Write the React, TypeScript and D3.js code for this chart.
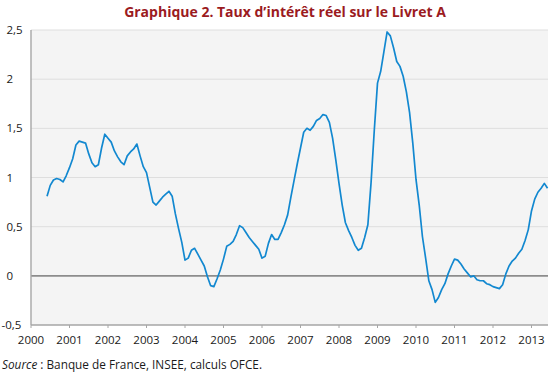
import React from "react";
import * as d3 from "d3";

const W = 550;
const H = 375;

// Monthly series, June 2000 -> June 2013
const startYear = 2000;
const startMonth = 6;
const values: number[] = [
  // 2000 Jun-Dec
  0.81, 0.92, 0.975, 0.99, 0.98, 0.955, 1.02,
  // 2001
  1.10, 1.19, 1.33, 1.37, 1.36, 1.35, 1.24, 1.15, 1.11, 1.13, 1.30, 1.44,
  // 2002
  1.40, 1.36, 1.27, 1.21, 1.16, 1.13, 1.22, 1.26, 1.29, 1.34, 1.22, 1.11,
  // 2003
  1.05, 0.90, 0.75, 0.72, 0.76, 0.80, 0.83, 0.86, 0.81, 0.63, 0.48, 0.34,
  // 2004
  0.16, 0.18, 0.26, 0.28, 0.22, 0.16, 0.10, -0.01, -0.10, -0.11, -0.03, 0.06,
  // 2005
  0.17, 0.30, 0.32, 0.35, 0.42, 0.51, 0.49, 0.44, 0.39, 0.35, 0.31, 0.27,
  // 2006
  0.18, 0.20, 0.33, 0.42, 0.37, 0.37, 0.44, 0.52, 0.62, 0.80, 0.97, 1.14,
  // 2007
  1.30, 1.46, 1.50, 1.48, 1.52, 1.58, 1.60, 1.64, 1.63, 1.56, 1.40, 1.18,
  // 2008
  0.94, 0.72, 0.54, 0.46, 0.39, 0.31, 0.26, 0.28, 0.39, 0.52, 0.95, 1.48,
  // 2009
  1.96, 2.08, 2.28, 2.48, 2.44, 2.32, 2.18, 2.13, 2.03, 1.87, 1.66, 1.35,
  // 2010
  0.98, 0.72, 0.40, 0.18, -0.05, -0.14, -0.27, -0.22, -0.14, -0.08, 0.02, 0.10,
  // 2011
  0.17, 0.16, 0.12, 0.07, 0.03, -0.01, 0.00, -0.04, -0.05, -0.05, -0.08, -0.09,
  // 2012
  -0.11, -0.12, -0.13, -0.09, 0.02, 0.10, 0.15, 0.18, 0.23, 0.27, 0.36, 0.47,
  // 2013 Jan-Jun
  0.66, 0.78, 0.85, 0.89, 0.94, 0.89,
];

const yearTicks: number[] = [2000, 2001, 2002, 2003, 2004, 2005, 2006, 2007, 2008, 2009, 2010, 2011, 2012, 2013];
const yTicks: number[] = [-0.5, 0, 0.5, 1, 1.5, 2, 2.5];

const title = "Graphique 2. Taux d\u2019intérêt réel sur le Livret A";
const sourceLabel = "Source";
const sourceText = " : Banque de France, INSEE, calculs OFCE.";

const FONT = "'Open Sans', 'Noto Sans', sans-serif";

export default function App() {
  const plotLeft = 31;
  const plotRight = 548;
  const plotTop = 30;
  const plotBottom = 325;

  const x = d3.scaleLinear().domain([2000, 2013]).range([plotLeft, plotLeft + 13 * 38.5]);
  const y = d3.scaleLinear().domain([-0.5, 2.5]).range([plotBottom, plotTop]);

  const points: [number, number][] = values.map((v, i) => {
    const m = startMonth - 1 + i;
    const t = startYear + m / 12;
    return [t, v];
  });

  const line = d3
    .line<[number, number]>()
    .x((d) => x(d[0]))
    .y((d) => y(d[1]));

  const fmt = (v: number) => String(v).replace(".", ",");

  return (
    <svg
      width={W}
      height={H}
      style={{ position: "absolute", left: 0, top: 0, background: "#fff" }}
      fontFamily={FONT}
    >
      <text x={285} y={17} textAnchor="middle" fontSize={14} fontWeight={700} fill="#9b1b1f">
        {title}
      </text>

      <rect x={plotLeft} y={plotTop} width={plotRight - plotLeft} height={plotBottom - plotTop} fill="#f4f4f4" />

      {yTicks
        .filter((t) => t !== 0 && t !== -0.5)
        .map((t) => (
          <line key={t} x1={plotLeft} x2={plotRight} y1={y(t)} y2={y(t)} stroke="#dedede" strokeWidth={1} />
        ))}

      <line x1={plotLeft} x2={plotRight} y1={y(0)} y2={y(0)} stroke="#8c8c8c" strokeWidth={1.6} />
      <line x1={plotLeft} x2={plotRight} y1={plotBottom} y2={plotBottom} stroke="#a6a6a6" strokeWidth={1.4} />
      <line x1={plotLeft} x2={plotLeft} y1={plotTop} y2={plotBottom} stroke="#a6a6a6" strokeWidth={1.4} />

      {yearTicks.map((t) => (
        <g key={t}>
          <line x1={x(t)} x2={x(t)} y1={plotBottom} y2={plotBottom + 3} stroke="#a6a6a6" strokeWidth={1} />
          <text x={x(t)} y={plotBottom + 19} textAnchor="middle" fontSize={11.5} fill="#1a1a1a">
            {t}
          </text>
        </g>
      ))}

      {yTicks.map((t) => (
        <text key={t} x={t < 0 ? 1.5 : 6.5} y={y(t) + 4} textAnchor="start" fontSize={11.5} fill="#1a1a1a">
          {fmt(t)}
        </text>
      ))}

      <path d={line(points) || ""} fill="none" stroke="#1288d0" strokeWidth={1.7} strokeLinejoin="round" />

      <text x={2} y={369} fontSize={11.8} fill="#1a1a1a">
        <tspan fontStyle="italic">{sourceLabel}</tspan>
        <tspan>{sourceText}</tspan>
      </text>
    </svg>
  );
}
